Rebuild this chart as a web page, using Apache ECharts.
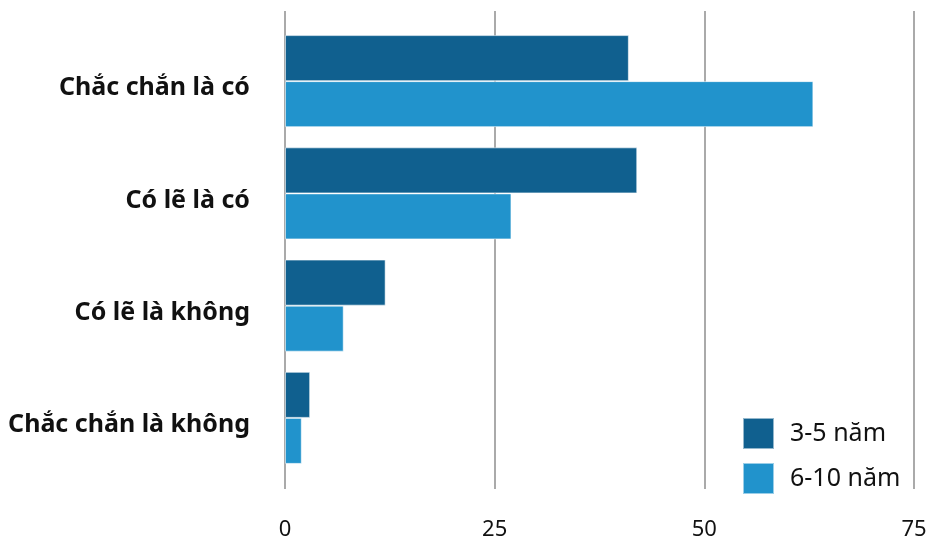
<!DOCTYPE html>
<html>
<head>
<meta charset="utf-8">
<script src="https://cdn.jsdelivr.net/npm/echarts@6/dist/echarts.min.js"></script>
<style>
  html, body { margin: 0; padding: 0; background: #fff; }
  #chart { width: 930px; height: 544px; }
</style>
</head>
<body>
<div id="chart"></div>
<script>
const categories = ['Chắc chắn là có', 'Có lẽ là có', 'Có lẽ là không', 'Chắc chắn là không']
const seriesNames = ['3-5 năm', '6-10 năm']
const vals35 = [41, 42, 12, 3]
const vals610 = [63, 27, 7, 2]
const xTicks = [0, 25, 50, 75]

const colors = ['#10608f', '#2193cc']
const font = '"Noto Sans", sans-serif'

const chart = echarts.init(document.getElementById('chart'), null, { renderer: 'canvas' })

const hiddenX = (gridIndex) => ({
  gridIndex, type: 'value', min: xTicks[0], max: xTicks[xTicks.length - 1], interval: 25,
  axisLine: { show: false }, axisTick: { show: false }, axisLabel: { show: false },
  splitLine: { show: false }
})

chart.setOption({
  animation: false,
  backgroundColor: '#fff',
  legend: {
    orient: 'vertical', left: 737, top: 412,
    itemWidth: 31, itemHeight: 31, itemGap: 12,
    icon: 'rect',
    textStyle: { fontFamily: font, fontSize: 25, color: '#111', padding: [0, 0, 0, 11] },
    data: seriesNames
  },
  grid: [
    { left: 285, right: 16, top: 25, height: 449 },   // bars
    { left: 285, right: 16, top: 11, height: 478 },   // split lines + x labels
    { left: 285, right: 16, top: 32, height: 449 }    // category labels (sit a bit low)
  ],
  xAxis: [
    hiddenX(0),
    { gridIndex: 1, type: 'value', min: xTicks[0], max: xTicks[xTicks.length - 1], interval: 25,
      axisLine: { show: false }, axisTick: { show: false },
      axisLabel: { fontFamily: font, fontSize: 22, color: '#111', margin: 30 },
      splitLine: { lineStyle: { color: '#aaa', width: 2 } } },
    hiddenX(2)
  ],
  yAxis: [
    { gridIndex: 0, type: 'category', data: categories, inverse: true,
      axisLine: { show: false }, axisTick: { show: false }, axisLabel: { show: false } },
    { gridIndex: 1, type: 'value', show: false },
    { gridIndex: 2, type: 'category', data: categories, inverse: true,
      axisLine: { show: false }, axisTick: { show: false },
      axisLabel: { fontFamily: font, fontSize: 25, fontWeight: 'bold', color: '#111', margin: 35 } }
  ],
  series: [
    { name: seriesNames[0], type: 'bar', data: vals35, xAxisIndex: 0, yAxisIndex: 0,
      barCategoryGap: '18%', barGap: '0%',
      itemStyle: { color: colors[0], borderColor: 'rgba(255,255,255,0.55)', borderWidth: 1 } },
    { name: seriesNames[1], type: 'bar', data: vals610, xAxisIndex: 0, yAxisIndex: 0,
      barCategoryGap: '18%', barGap: '0%',
      itemStyle: { color: colors[1], borderColor: 'rgba(255,255,255,0.55)', borderWidth: 1 } }
  ]
})

window.addEventListener('resize', () => chart.resize())
</script>
</body>
</html>
